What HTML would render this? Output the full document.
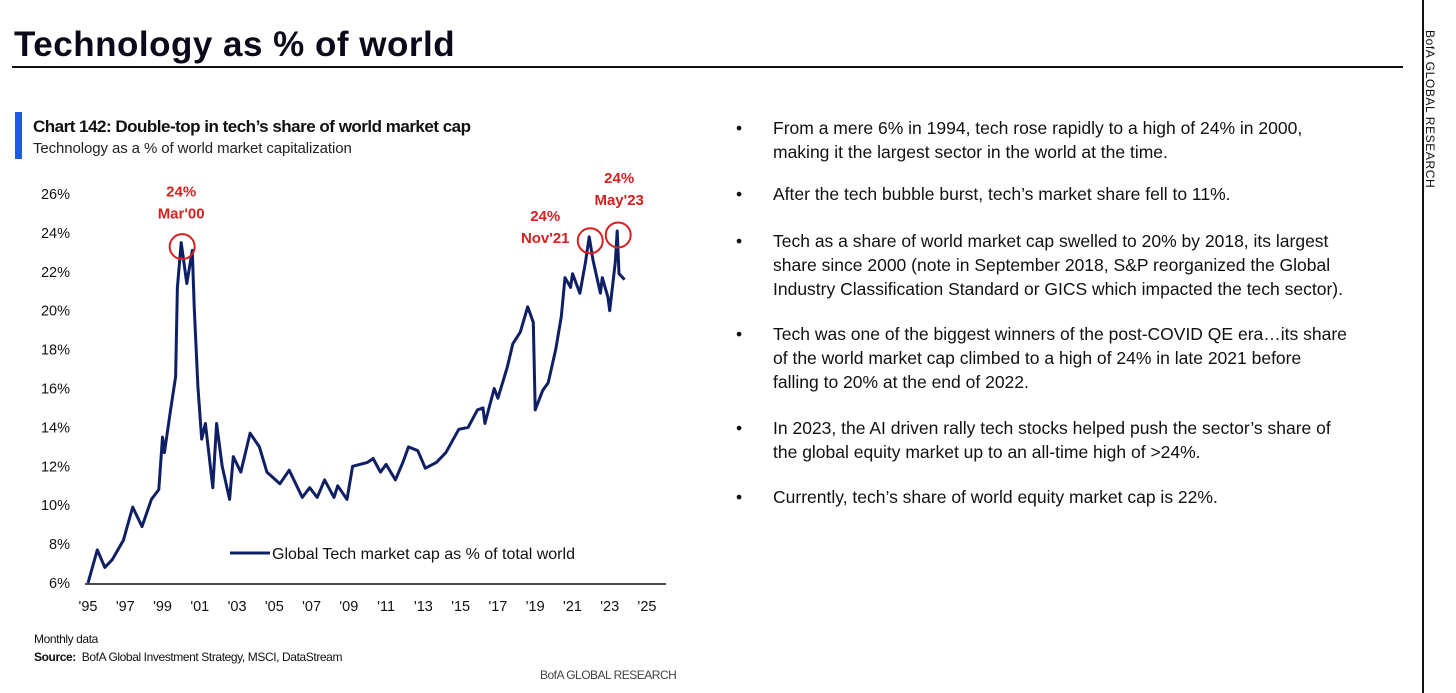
<!DOCTYPE html>
<html><head><meta charset="utf-8">
<style>
body{margin:0;width:1456px;height:693px;background:#fff;position:relative;overflow:hidden;font-family:"Liberation Sans",sans-serif;color:#111}
.abs{position:absolute;white-space:nowrap}
#title{left:14px;top:25px;font-size:35px;font-weight:bold;color:#0a0a1a;letter-spacing:0.5px}
#rule{left:12px;top:66px;width:1391px;height:2px;background:#111}
#vline{left:1422px;top:0;width:2px;height:693px;background:#111}
#vtext{left:1437px;top:30px;font-size:12px;transform-origin:0 0;transform:rotate(90deg);letter-spacing:0.6px}
#bar{left:15px;top:112px;width:7px;height:47px;background:#1f5bd6}
#ctitle{left:33px;top:117px;font-size:17px;font-weight:bold;letter-spacing:-0.5px}
#csub{left:33px;top:140px;font-size:15px;letter-spacing:-0.1px;color:#222}
.bul{position:absolute;left:736px;font-size:17.5px;line-height:24px;color:#111;width:660px;white-space:nowrap}
.bul span{position:absolute;left:0}
.bul div{margin-left:37px}
#foot1{left:34px;top:632px;font-size:12px;letter-spacing:-0.4px}
#foot2{left:34px;top:650px;font-size:12px;letter-spacing:-0.4px}
#foot3{left:540px;top:668px;font-size:12px;color:#444;letter-spacing:-0.5px}
</style></head><body>
<div class="abs" id="title">Technology as % of world</div>
<div class="abs" id="rule"></div>
<div class="abs" id="vline"></div>
<div class="abs" id="vtext">BofA GLOBAL RESEARCH</div>
<div class="abs" id="bar"></div>
<div class="abs" id="ctitle">Chart 142: Double-top  in tech’s share of world market cap</div>
<div class="abs" id="csub">Technology as a % of world market capitalization</div>

<svg id="chart" style="position:absolute;left:0;top:0" width="700" height="630"></svg>

<div class="abs" id="foot1">Monthly data</div>
<div class="abs" id="foot2"><b>Source:</b>&nbsp; BofA Global Investment Strategy, MSCI, DataStream</div>
<div class="abs" id="foot3">BofA GLOBAL RESEARCH</div>

<div class="bul" style="top:116px"><span>•</span><div>From a mere 6% in 1994, tech rose rapidly to a high of 24% in 2000,<br>making it the largest sector in the world at the time.</div></div>
<div class="bul" style="top:182px"><span>•</span><div>After the tech bubble burst, tech’s market share fell to 11%.</div></div>
<div class="bul" style="top:229px"><span>•</span><div>Tech as a share of world market cap swelled to 20% by 2018, its largest<br>share since 2000 (note in September 2018, S&amp;P reorganized the Global<br>Industry Classification Standard or GICS which impacted the tech sector).</div></div>
<div class="bul" style="top:322px"><span>•</span><div>Tech was one of the biggest winners of the post-COVID QE era…its share<br>of the world market cap climbed to a high of 24% in late 2021 before<br>falling to 20% at the end of 2022.</div></div>
<div class="bul" style="top:416px"><span>•</span><div>In 2023, the AI driven rally tech stocks helped push the sector’s share of<br>the global equity market up to an all-time high of &gt;24%.</div></div>
<div class="bul" style="top:485px"><span>•</span><div>Currently, tech’s share of world equity market cap is 22%.</div></div>

<script>
const years=[1995.0,1995.5,1995.9,1996.3,1996.9,1997.4,1997.9,1998.4,1998.8,1999.0,1999.1,1999.4,1999.7,1999.8,2000.0,2000.3,2000.6,2000.7,2000.9,2001.1,2001.3,2001.7,2001.9,2002.2,2002.6,2002.8,2003.2,2003.7,2004.2,2004.6,2005.3,2005.8,2006.5,2006.9,2007.3,2007.7,2008.2,2008.4,2008.9,2009.2,2010.0,2010.3,2010.7,2011.0,2011.5,2011.9,2012.2,2012.7,2013.1,2013.7,2014.2,2014.9,2015.4,2015.9,2016.2,2016.3,2016.8,2017.0,2017.5,2017.8,2018.2,2018.6,2018.9,2019.0,2019.4,2019.7,2020.1,2020.4,2020.6,2020.9,2021.0,2021.4,2021.7,2021.9,2022.1,2022.5,2022.6,2022.9,2023.0,2023.3,2023.4,2023.5,2023.8];
const shares=[6.0,7.7,6.8,7.2,8.2,9.9,8.9,10.3,10.8,13.5,12.7,14.7,16.6,21.2,23.5,21.4,23.1,20.2,16.1,13.4,14.2,10.9,14.2,12.0,10.3,12.5,11.7,13.7,13.0,11.7,11.1,11.8,10.4,10.9,10.4,11.3,10.4,11.0,10.3,12.0,12.2,12.4,11.7,12.1,11.3,12.2,13.0,12.8,11.9,12.2,12.7,13.9,14.0,14.9,15.0,14.2,16.0,15.5,17.1,18.3,18.9,20.2,19.4,14.9,15.9,16.3,18.0,19.7,21.7,21.2,21.9,20.9,22.5,23.8,22.6,20.9,21.7,20.7,20.0,22.5,24.1,21.9,21.6];
const yTicks=[6,8,10,12,14,16,18,20,22,24,26];
const xTicks=[1995,1997,1999,2001,2003,2005,2007,2009,2011,2013,2015,2017,2019,2021,2023,2025];
const peakYears=[2000.0,2021.9,2023.4];
const peakVals=[23.5,23.8,24.1];
const peakLabels=[["24%","Mar'00"],["24%","Nov'21"],["24%","May'23"]];

const NS="http://www.w3.org/2000/svg";
const svg=document.getElementById('chart');
const X=y=>88+(y-1995)*(647-88)/30;
const Y=v=>583-(v-6)*(583-194)/20;
function mk(t,a){const e=document.createElementNS(NS,t);for(const k in a)e.setAttribute(k,a[k]);svg.appendChild(e);return e;}
const ax=mk('line',{x1:85,x2:666,y1:584,y2:584,stroke:'#111','stroke-width':1.5});


yTicks.forEach(v=>{const t=mk('text',{x:70,y:Y(v)+5,'text-anchor':'end','font-size':14.5,fill:'#111','font-family':'Liberation Sans'});t.textContent=v+'%';

});
xTicks.forEach(y=>{const t=mk('text',{x:X(y),y:611,'text-anchor':'middle','font-size':14.5,fill:'#111','font-family':'Liberation Sans'});t.textContent="'"+String(y).slice(2);

});
const d=years.map((y,i)=>(i?'L':'M')+X(y).toFixed(1)+','+Y(shares[i]).toFixed(1)).join('');
const p=mk('path',{d:d,fill:'none',stroke:'#0f1f66','stroke-width':3,'stroke-linejoin':'round'});


const lOff=[[0,-46],[-44,-16],[2,-48]];
peakYears.forEach((y,i)=>{
 const c=mk('circle',{cx:X(y)+1,cy:Y(peakVals[i])+4,r:12.5,fill:'none',stroke:'#d42020','stroke-width':2});
 
 
 const lx=X(y)+lOff[i][0], ly=Y(peakVals[i])+lOff[i][1];
 peakLabels[i].forEach((s,j)=>{const t=mk('text',{x:lx,y:ly+j*22,'text-anchor':'middle','font-size':15,'font-weight':'bold',fill:'#d42020','font-family':'Liberation Sans'});t.textContent=s;
 
 });
});
const ll=mk('line',{x1:230,x2:270,y1:553,y2:553,stroke:'#0f1f66','stroke-width':3});


const lt=mk('text',{x:272,y:559,'font-size':16,fill:'#111','font-family':'Liberation Sans'});lt.textContent='Global Tech market cap as % of total world';


</script>
</body></html>
